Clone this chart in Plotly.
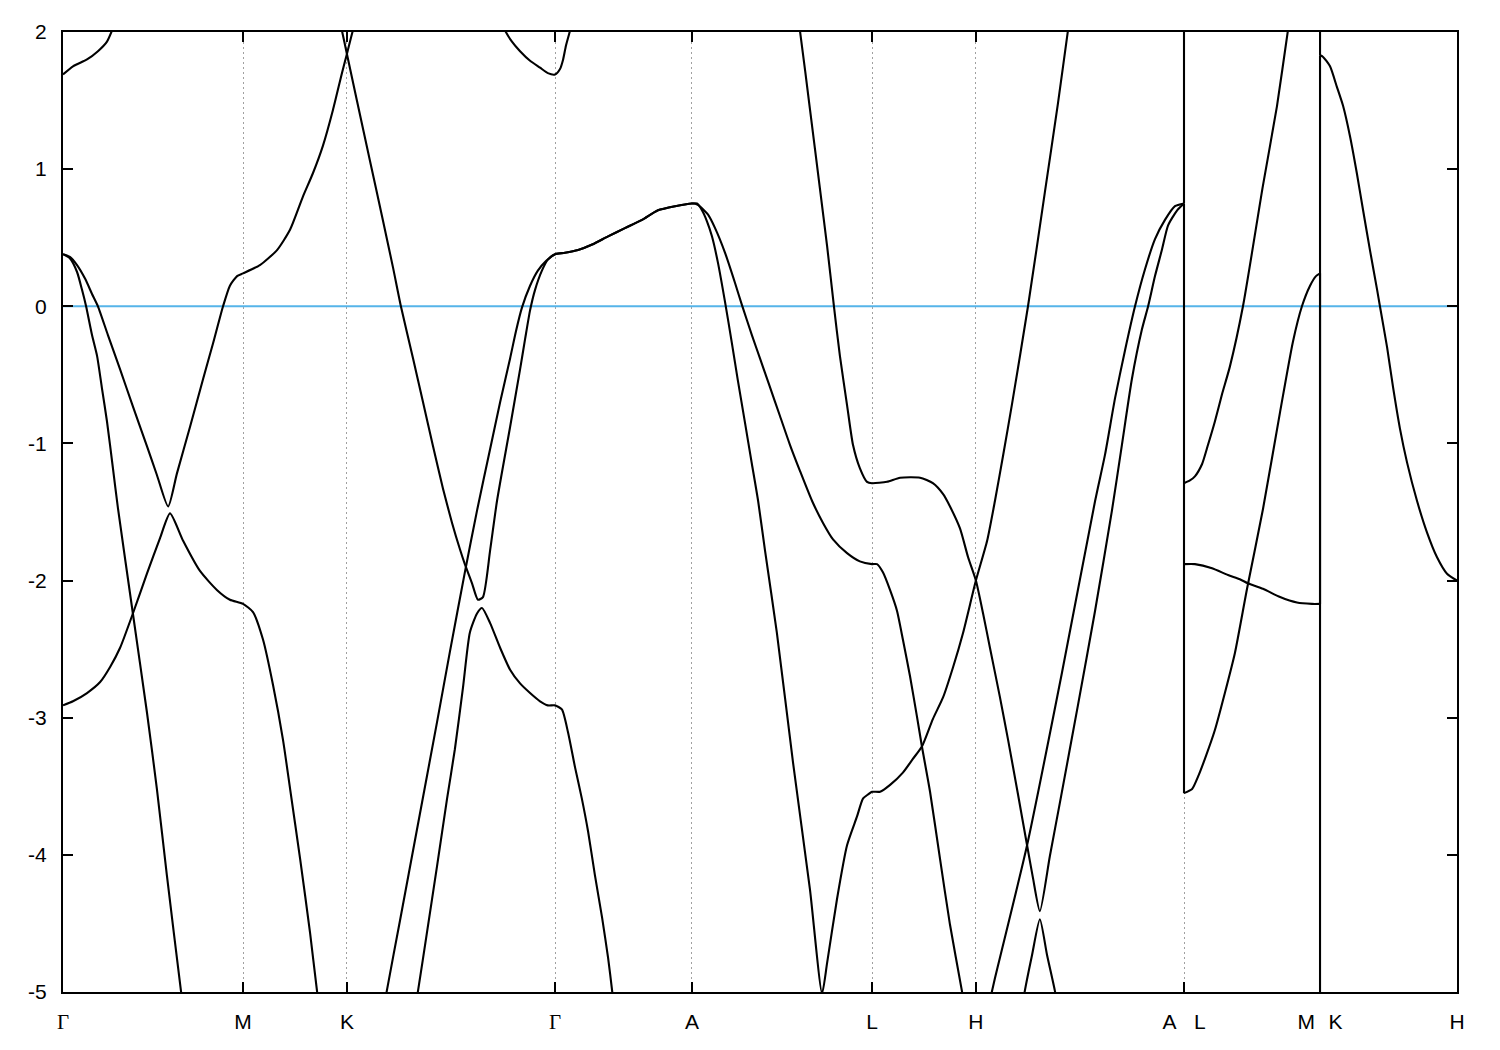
import plotly.graph_objects as go

# ---------------- axis data ----------------
kpath_ticks = [0.000, 0.577, 0.910, 1.577, 2.016, 2.593, 2.926, 3.593, 4.029, 4.468]
GAM = "<span style='font-family:Liberation Serif'>Γ</span>"
NB = "\u00a0"
kpath_labels = [GAM, "M", "K", GAM, "A", "L", "H", "A" + NB * 3 + "L", "M" + NB * 2 + "\u200aK", "H"]
energy_ticks = [-5, -4, -3, -2, -1, 0, 1, 2]
energy_labels = ["-5", "-4", "-3", "-2", "-1", "0", "1", "2"]
fermi_level = 0.0

# ---------------- band segments (k in path units, E in eV) ----------------
# Gamma-M
gm_top_k = [0.000, 0.032, 0.077, 0.112, 0.141, 0.157, 0.170]
gm_top_e = [1.69, 1.75, 1.80, 1.86, 1.93, 2.01, 2.09]

gm_steep_k = [0.000, 0.022, 0.045, 0.061, 0.074, 0.093, 0.109, 0.125, 0.141, 0.160, 0.176,
              0.224, 0.269, 0.301, 0.333, 0.378, 0.388]
gm_steep_e = [0.38, 0.35, 0.25, 0.12, 0.00, -0.21, -0.36, -0.60, -0.84, -1.18, -1.47,
              -2.24, -2.96, -3.52, -4.15, -4.99, -5.15]

gmk_upper_k = [0.000, 0.022, 0.045, 0.071, 0.093, 0.112, 0.144, 0.183, 0.224, 0.269, 0.301,
               0.337, 0.365, 0.407, 0.449, 0.481, 0.513, 0.535, 0.558, 0.577, 0.631, 0.686,
               0.728, 0.769, 0.801, 0.833, 0.865, 0.894, 0.910, 0.929, 0.946]
gmk_upper_e = [0.38, 0.36, 0.30, 0.20, 0.09, 0.00, -0.21, -0.46, -0.73, -1.02, -1.23,
               -1.46, -1.22, -0.88, -0.53, -0.27, 0.00, 0.15, 0.22, 0.24, 0.30, 0.41,
               0.56, 0.80, 0.97, 1.17, 1.43, 1.70, 1.84, 2.01, 2.13]

gmk_lower_k = [0.000, 0.032, 0.077, 0.119, 0.151, 0.183, 0.224, 0.269, 0.311, 0.343, 0.385,
               0.439, 0.494, 0.535, 0.577, 0.609, 0.641, 0.673, 0.705, 0.728, 0.760, 0.792,
               0.814, 0.824]
gmk_lower_e = [-2.91, -2.88, -2.82, -2.74, -2.63, -2.49, -2.24, -1.95, -1.69, -1.51, -1.71,
               -1.93, -2.07, -2.14, -2.17, -2.23, -2.43, -2.76, -3.16, -3.52, -4.03, -4.57,
               -4.99, -5.15]

# K-Gamma
kg_desc_k = [0.881, 0.894, 0.910, 0.942, 0.984, 1.026, 1.058, 1.083, 1.122, 1.154, 1.186,
             1.218, 1.247, 1.272, 1.288, 1.311, 1.330, 1.346, 1.369, 1.391, 1.433, 1.465,
             1.481, 1.497, 1.513, 1.535, 1.554, 1.577]
kg_desc_e = [2.13, 2.01, 1.84, 1.50, 1.06, 0.62, 0.28, 0.00, -0.38, -0.70, -1.02,
             -1.33, -1.58, -1.77, -1.88, -2.02, -2.14, -2.12, -1.78, -1.42, -0.88, -0.46,
             -0.24, -0.03, 0.12, 0.26, 0.34, 0.38]

kg_steep_k = [1.029, 1.038, 1.080, 1.135, 1.199, 1.240, 1.288, 1.327, 1.369, 1.401, 1.433,
              1.452, 1.471, 1.497, 1.522, 1.548, 1.577]
kg_steep_e = [-5.12, -4.99, -4.48, -3.81, -3.03, -2.52, -1.94, -1.49, -1.04, -0.70, -0.38,
              -0.18, -0.01, 0.15, 0.26, 0.33, 0.38]

kga_lower_k = [1.128, 1.138, 1.167, 1.199, 1.231, 1.256, 1.282, 1.304, 1.327, 1.343, 1.369,
               1.401, 1.433, 1.465, 1.497, 1.529, 1.554, 1.577, 1.599, 1.619, 1.641, 1.663,
               1.683, 1.705, 1.728, 1.747, 1.760, 1.766]
kga_lower_e = [-5.12, -4.99, -4.56, -4.08, -3.59, -3.23, -2.78, -2.38, -2.24, -2.20, -2.31,
               -2.49, -2.65, -2.75, -2.82, -2.88, -2.91, -2.91, -2.94, -3.11, -3.36, -3.59,
               -3.83, -4.15, -4.46, -4.75, -4.99, -5.12]

g2_top_k = [1.401, 1.417, 1.439, 1.465, 1.497, 1.529, 1.554, 1.577, 1.593, 1.603, 1.612, 1.625, 1.631]
g2_top_e = [2.09, 2.01, 1.93, 1.86, 1.79, 1.74, 1.70, 1.69, 1.73, 1.80, 1.90, 2.01, 2.09]

# Gamma-A (doubly degenerate)
ga_k = [1.609, 1.651, 1.696, 1.747, 1.801, 1.856, 1.907, 1.962, 2.016]
ga_e = [0.39, 0.41, 0.45, 0.51, 0.57, 0.63, 0.70, 0.73, 0.75]

# A-L-H
al_mid_k = [2.035, 2.067, 2.090, 2.122, 2.154, 2.176, 2.208, 2.234, 2.266, 2.298, 2.330,
            2.362, 2.401, 2.436, 2.468, 2.513, 2.554, 2.593, 2.609, 2.628, 2.651, 2.673,
            2.692, 2.715, 2.737, 2.753, 2.779, 2.811, 2.843, 2.881, 2.891]
al_mid_e = [0.74, 0.67, 0.57, 0.39, 0.17, 0.01, -0.21, -0.38, -0.59, -0.80, -1.01,
            -1.20, -1.42, -1.58, -1.70, -1.80, -1.86, -1.88, -1.88, -1.94, -2.07, -2.22,
            -2.43, -2.70, -2.99, -3.21, -3.54, -4.03, -4.51, -4.99, -5.13]

al_steep_k = [2.032, 2.048, 2.064, 2.080, 2.099, 2.122, 2.144, 2.163, 2.186, 2.208, 2.228,
              2.250, 2.288, 2.340, 2.394, 2.433]
al_steep_e = [0.75, 0.70, 0.62, 0.51, 0.32, 0.03, -0.27, -0.54, -0.85, -1.15, -1.42,
              -1.78, -2.38, -3.33, -4.25, -5.01]

lh_rise_k = [2.449, 2.481, 2.513, 2.545, 2.564, 2.580, 2.593, 2.619, 2.651, 2.692, 2.724,
             2.753, 2.788, 2.821, 2.853, 2.885, 2.926, 2.962, 2.987, 3.013, 3.042, 3.093,
             3.147, 3.189, 3.221, 3.231]
lh_rise_e = [-4.79, -4.32, -3.93, -3.72, -3.59, -3.56, -3.54, -3.54, -3.49, -3.40, -3.30,
             -3.21, -3.01, -2.85, -2.63, -2.38, -2.00, -1.71, -1.42, -1.09, -0.71, 0.00,
             0.83, 1.48, 2.01, 2.17]

alh_desc_k = [2.353, 2.362, 2.394, 2.426, 2.449, 2.471, 2.490, 2.513, 2.532, 2.554, 2.577,
              2.593, 2.641, 2.683, 2.747, 2.788, 2.821, 2.843, 2.875, 2.901, 2.926, 2.949,
              2.971, 3.003, 3.029, 3.061, 3.090, 3.109, 3.131]
alh_desc_e = [2.13, 2.01, 1.44, 0.86, 0.44, 0.00, -0.36, -0.72, -1.01, -1.18, -1.28,
              -1.29, -1.28, -1.25, -1.25, -1.29, -1.37, -1.46, -1.62, -1.83, -2.00, -2.24,
              -2.49, -2.85, -3.16, -3.56, -3.93, -4.17, -4.41]

# H-A
ha_upper_k = [3.163, 3.196, 3.253, 3.308, 3.362, 3.394, 3.426, 3.458, 3.478, 3.500, 3.522,
              3.542, 3.571, 3.593, 3.593]
ha_upper_e = [-4.01, -3.61, -2.91, -2.22, -1.49, -1.01, -0.53, -0.17, 0.00, 0.22, 0.41,
              0.59, 0.70, 0.75, 2.60]

ha_left_k = [2.965, 2.987, 3.003, 3.090, 3.202, 3.308, 3.340, 3.372, 3.404, 3.436, 3.468,
             3.500, 3.532, 3.564, 3.593]
ha_left_e = [-5.12, -4.90, -4.75, -3.93, -2.67, -1.42, -1.08, -0.67, -0.32, 0.00, 0.27,
             0.49, 0.63, 0.73, 0.75]

ha_low_k = [3.074, 3.083, 3.106, 3.131, 3.154, 3.179, 3.189]
ha_low_e = [-5.12, -4.99, -4.73, -4.47, -4.73, -4.99, -5.12]

# L-M
lm_rise_k = [3.593, 3.619, 3.638, 3.660, 3.692, 3.724, 3.756, 3.795, 3.846, 3.901, 3.942,
             3.971, 3.997, 4.016, 4.029, 4.029]
lm_rise_e = [-3.55, -3.52, -3.43, -3.30, -3.09, -2.82, -2.53, -2.06, -1.48, -0.77, -0.26,
             0.00, 0.15, 0.22, 0.24, -6.00]

lm_top_k = [3.593, 3.612, 3.628, 3.651, 3.670, 3.692, 3.715, 3.740, 3.782, 3.846, 3.891,
            3.926, 3.939, 4.029, 4.029]
lm_top_e = [-1.29, -1.27, -1.24, -1.15, -1.01, -0.84, -0.64, -0.44, 0.00, 0.88, 1.46,
            2.01, 2.20, 3.00, 1.83]

lm_flat_k = [3.593, 3.628, 3.683, 3.734, 3.772, 3.798, 3.846, 3.901, 3.955, 4.003, 4.029]
lm_flat_e = [-1.88, -1.88, -1.91, -1.96, -1.99, -2.02, -2.06, -2.12, -2.16, -2.17, -2.17]

# K-H
kh_k = [4.029, 4.038, 4.061, 4.083, 4.103, 4.125, 4.147, 4.167, 4.189, 4.212, 4.221,
        4.244, 4.263, 4.285, 4.308, 4.340, 4.372, 4.404, 4.436, 4.468]
kh_e = [1.83, 1.82, 1.75, 1.60, 1.46, 1.24, 0.97, 0.70, 0.41, 0.12, 0.00,
        -0.30, -0.59, -0.89, -1.14, -1.42, -1.65, -1.83, -1.95, -2.00]

# ---------------- assemble bands ----------------
bands = [
    (gm_top_k, gm_top_e),
    (gm_steep_k, gm_steep_e),
    (gmk_upper_k, gmk_upper_e),
    (gmk_lower_k, gmk_lower_e),
    (kg_desc_k + ga_k + al_mid_k, kg_desc_e + ga_e + al_mid_e),
    (kg_steep_k + ga_k + al_steep_k + lh_rise_k, kg_steep_e + ga_e + al_steep_e + lh_rise_e),
    (kga_lower_k, kga_lower_e),
    (g2_top_k, g2_top_e),
    (alh_desc_k + ha_upper_k, alh_desc_e + ha_upper_e),
    (ha_left_k + lm_rise_k, ha_left_e + lm_rise_e),
    (ha_low_k, ha_low_e),
    (lm_top_k, lm_top_e),
    (lm_flat_k + kh_k, lm_flat_e + kh_e),
]
for kk, ee in bands:
    assert len(kk) == len(ee), (len(kk), len(ee))


def split_pieces(kk, ee):
    """Split a band at path discontinuities (repeated k): smooth pieces + vertical jumps."""
    pieces, jumps = [], []
    cur_k, cur_e = [kk[0]], [ee[0]]
    for i in range(1, len(kk)):
        if kk[i] == kk[i - 1]:
            pieces.append((cur_k, cur_e))
            jumps.append(([kk[i - 1], kk[i]], [ee[i - 1], ee[i]]))
            cur_k, cur_e = [kk[i]], [ee[i]]
        else:
            cur_k.append(kk[i])
            cur_e.append(ee[i])
    pieces.append((cur_k, cur_e))
    return pieces, jumps


LW = 2.1
fig = go.Figure()
fig.add_trace(go.Scatter(
    x=[kpath_ticks[0], kpath_ticks[-1]], y=[fermi_level, fermi_level],
    mode="lines", line=dict(color="#56B4E9", width=2), hoverinfo="skip"))
for kk, ee in bands:
    pieces, jumps = split_pieces(kk, ee)
    for pk, pe in pieces:
        if len(pk) < 2:
            continue
        fig.add_trace(go.Scatter(x=pk, y=pe, mode="lines",
                                 line=dict(color="black", width=LW, shape="spline", smoothing=0.6)))
    for jk, je in jumps:
        fig.add_trace(go.Scatter(x=jk, y=je, mode="lines",
                                 line=dict(color="black", width=LW)))

font_main = dict(family="Liberation Sans, Arial, sans-serif", size=21, color="black")
fig.update_layout(
    width=1500, height=1050,
    margin=dict(l=55, r=51, t=19, b=66),
    paper_bgcolor="white", plot_bgcolor="white",
    showlegend=False,
    font=font_main,
    xaxis=dict(range=[kpath_ticks[0], kpath_ticks[-1]], tickmode="array",
               tickvals=kpath_ticks, ticktext=kpath_labels,
               ticks="inside", ticklen=10, tickwidth=1.8, tickcolor="black",
               showline=True, linecolor="black", linewidth=2, mirror="ticks",
               showgrid=True, gridcolor="#a0a0a0", gridwidth=1, griddash="2px,3px",
               zeroline=False, tickfont=font_main, ticklabelstandoff=10),
    yaxis=dict(range=[-5, 2], tickmode="array", tickvals=energy_ticks, ticktext=energy_labels,
               ticks="inside", ticklen=10, tickwidth=1.8, tickcolor="black",
               showline=True, linecolor="black", linewidth=2, mirror="ticks",
               showgrid=False, zeroline=False, tickfont=font_main, ticklabelstandoff=10),
)
fig.write_html("out.html")
